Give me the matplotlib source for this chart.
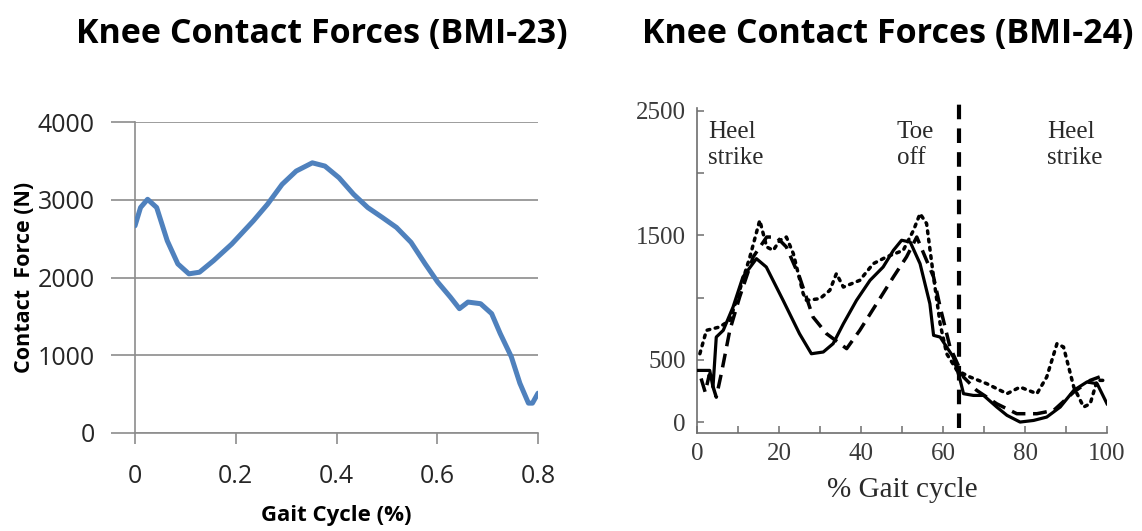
import matplotlib
matplotlib.use("Agg")
import matplotlib.pyplot as plt
from matplotlib.ticker import FixedLocator, NullFormatter


# BMI-23 contact force vs gait cycle fraction
bmi23_cycle = [0.0, 0.011, 0.025, 0.043, 0.064, 0.085, 0.107, 0.128, 0.156, 0.192,
               0.235, 0.263, 0.292, 0.32, 0.352, 0.377, 0.405, 0.434, 0.462, 0.491,
               0.519, 0.548, 0.576, 0.601, 0.626, 0.644, 0.661, 0.686, 0.708, 0.725,
               0.747, 0.764, 0.781, 0.789, 0.8]
bmi23_force = [2665, 2900, 3006, 2900, 2473, 2175, 2047, 2068, 2217, 2430,
               2729, 2942, 3198, 3369, 3475, 3433, 3283, 3070, 2900, 2772,
               2644, 2452, 2175, 1940, 1748, 1599, 1684, 1663, 1535, 1279,
               981, 640, 384, 384, 512]

# BMI-24 panel: three traces over % gait cycle
solid_x = [0.2, 3.1, 3.9, 4.7, 6.4, 8.8, 11.2, 14.5, 16.9, 21.0, 25.0, 27.9, 30.8,
           33.2, 35.7, 38.9, 42.2, 45.4, 47.9, 49.9, 52.0, 54.4, 56.8, 57.7, 59.3,
           62.5, 64.2, 65.0, 67.4, 69.9, 73.1, 75.6, 78.8, 82.1, 85.3, 88.6, 91.9,
           95.1, 97.6, 100.0]
solid_y = [415, 415, 281, 683, 737, 925, 1166, 1313, 1246, 978, 710, 549, 563,
           630, 790, 978, 1139, 1246, 1380, 1461, 1447, 1273, 951, 697, 683,
           523, 335, 228, 214, 214, 121, 54, 0, 13, 40, 121, 255,
           322, 308, 147]

dashed_x = [1.0, 2.0, 3.0, 4.7, 6.0, 8.0, 10.4, 13.7, 17.0, 19.4, 21.8, 25.0, 28.3,
            31.6, 36.5, 39.7, 43.8, 47.9, 51.1, 53.6, 57.7, 59.3, 61.7, 65.0, 68.2,
            73.1, 78.0, 82.9, 87.0, 91.9, 95.9, 99.2, 100.0]
dashed_y = [350, 240, 380, 200, 400, 737, 1005, 1327, 1487, 1487, 1407, 1166, 844,
            710, 590, 737, 951, 1166, 1327, 1487, 1166, 925, 603, 362, 255,
            147, 67, 67, 94, 241, 335, 375, 370]

dotted_x = [0.7, 2.3, 5.5, 8.0, 10.4, 12.9, 15.3, 17.0, 18.6, 20.2, 21.8, 23.5, 25.9,
            26.7, 30.0, 32.4, 34.0, 35.7, 39.7, 43.0, 46.2, 50.3, 52.8, 54.4, 56.0,
            57.7, 59.3, 60.9, 63.4, 66.6, 70.7, 75.6, 78.8, 82.9, 85.3, 87.8, 89.4,
            91.9, 94.3, 95.9, 97.6, 100.0]
dotted_y = [549, 737, 764, 817, 1059, 1327, 1621, 1407, 1380, 1461, 1487, 1353, 1032,
            978, 992, 1059, 1193, 1085, 1139, 1273, 1327, 1380, 1541, 1675, 1595,
            1166, 790, 549, 415, 362, 308, 228, 281, 228, 362, 630, 603,
            281, 121, 147, 335, 335]

toe_off_pct = 64
phase_labels = ["Heel\nstrike", "Toe\noff", "Heel\nstrike"]
phase_x = [2.7, 48.7, 85.3]

W, H = 1142, 531
fig = plt.figure(figsize=(W / 100, H / 100), dpi=100)
sans = "Open Sans"
serif = "Liberation Serif"

# ---- left: spreadsheet style line chart ----
ax1 = fig.add_axes([135 / W, 98 / H, 403 / W, 311 / H])
grid_c = "#8c8c8c"
ax1.plot(bmi23_cycle, bmi23_force, color="#4f81bd", lw=3.6,
         solid_capstyle="round", solid_joinstyle="round", zorder=3)
ax1.set_xlim(0, 0.8)
ax1.set_ylim(0, 4000)
ax1.set_xticks([0, 0.2, 0.4, 0.6, 0.8])
ax1.set_xticklabels(["0", "0.2", "0.4", "0.6", "0.8"])
ax1.set_yticks([0, 1000, 2000, 3000, 4000])
ax1.yaxis.grid(True, color=grid_c, lw=1.2)
for s in ["top", "right"]:
    ax1.spines[s].set_visible(False)
for s in ["left", "bottom"]:
    ax1.spines[s].set_color(grid_c)
    ax1.spines[s].set_linewidth(1.2)
ax1.tick_params(axis="y", length=17, width=1.2, color=grid_c, pad=12)
ax1.tick_params(axis="x", length=8, width=1.2, color=grid_c, pad=14)
for lab in ax1.get_xticklabels() + ax1.get_yticklabels():
    lab.set_family(sans)
    lab.set_fontsize(18)
    lab.set_color("#262626")
ax1.set_xlabel("Gait Cycle (%)", family=sans, fontsize=16,
               fontweight="bold", labelpad=12)
ax1.set_ylabel("Contact  Force (N)", family=sans, fontsize=15.5,
               fontweight="bold", labelpad=2)
fig.text(322 / W, 1 - 43 / H, "Knee Contact Forces (BMI-23)", ha="center",
         va="baseline", family=sans, fontsize=24.5, fontweight="bold")

# ---- right: three force traces with gait events ----
ax2 = fig.add_axes([697 / W, 98 / H, 410 / W, 325 / H])
axc = "#6e6e6e"
ax2.plot(solid_x, solid_y, color="black", lw=2.3, zorder=3)
ax2.plot(dashed_x, dashed_y, color="black", lw=2.5, ls=(0, (4, 2.2)), zorder=3)
ax2.plot(dotted_x, dotted_y, color="black", lw=2.5, ls=(0, (0.8, 1.6)),
         dash_capstyle="round", zorder=3)
ax2.axvline(toe_off_pct, ymin=0.015, ymax=1.035, clip_on=False, color="black",
            lw=3, ls=(0, (3.5, 2.2)), zorder=4)
ax2.set_xlim(0, 100)
ax2.set_ylim(-88, 2524)
ax2.xaxis.set_major_locator(FixedLocator(range(0, 101, 20)))
ax2.xaxis.set_minor_locator(FixedLocator(range(10, 100, 20)))
ax2.yaxis.set_major_locator(FixedLocator([0, 500, 1500, 2500]))
ax2.yaxis.set_minor_locator(FixedLocator([1000, 2000]))
ax2.yaxis.set_minor_formatter(NullFormatter())
for s in ["top", "right"]:
    ax2.spines[s].set_visible(False)
for s in ["left", "bottom"]:
    ax2.spines[s].set_color(axc)
    ax2.spines[s].set_linewidth(1.2)
ax2.tick_params(which="both", direction="in", length=5, width=1.1, color=axc)
ax2.tick_params(axis="x", pad=7)
ax2.tick_params(axis="y", pad=8)
for lab in ax2.get_xticklabels() + ax2.get_yticklabels():
    lab.set_family(serif)
    lab.set_fontsize(18)
    lab.set_color("#3a3a3a")
ax2.set_xlabel("% Gait cycle", family=serif, fontsize=21, color="#2a2a2a",
               labelpad=9)
for lbl, px in zip(phase_labels, phase_x):
    ax2.text(px, 2420, lbl, ha="left", va="top", family=serif, fontsize=18,
             color="#2a2a2a", linespacing=1.25)
fig.text(888 / W, 1 - 43 / H, "Knee Contact Forces (BMI-24)", ha="center",
         va="baseline", family=sans, fontsize=24.5, fontweight="bold")

fig.savefig("out.png", dpi=100)
